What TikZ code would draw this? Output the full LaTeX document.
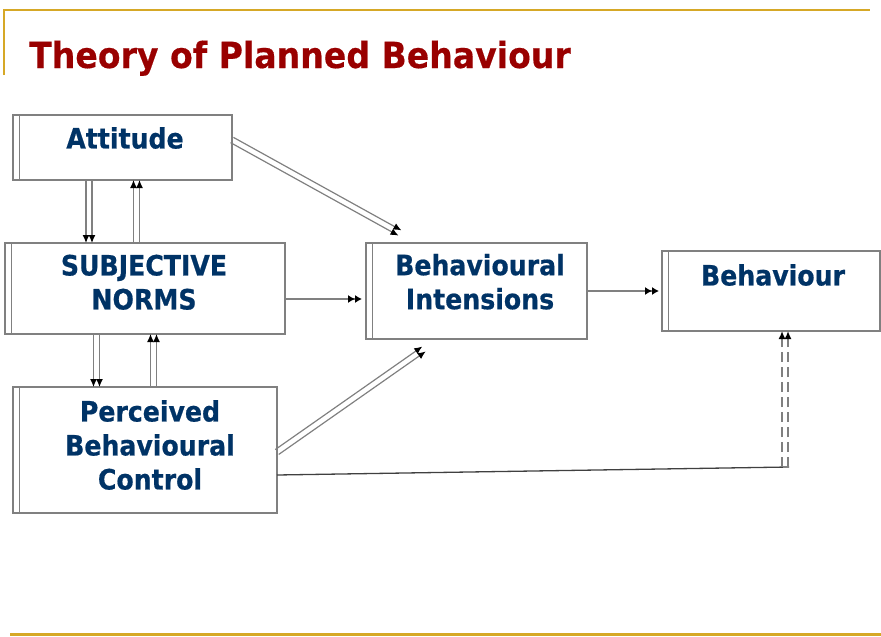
\documentclass[tikz,border=0pt]{standalone}
\usepackage{fontspec}
\usetikzlibrary{arrows.meta,calc,positioning}

\newfontfamily\titlefont[FakeStretch=0.92,FakeBold=0.4]{DejaVu Sans Bold}
\newfontfamily\boxfont[FakeStretch=0.9,FakeBold=0.6]{DejaVu Sans Bold}

\definecolor{gold}{RGB}{214,168,38}
\definecolor{maroon}{RGB}{153,0,0}
\definecolor{navy}{RGB}{0,51,102}
\definecolor{edge}{RGB}{128,128,128}

% two parallel arrows from #2 to #3
\newcommand\twinarrow[3][]{%
  \draw[twin,#1] ($(#2)!3pt!90:(#3)$) -- ($(#3)!3pt!-90:(#2)$);
  \draw[twin,#1] ($(#2)!3pt!-90:(#3)$) -- ($(#3)!3pt!90:(#2)$);}

\begin{document}
\begin{tikzpicture}[x=1pt,y=-1pt,
    card/.style={draw=edge,line width=1.4pt,fill=white,inner sep=0pt,outer sep=0pt},
    caption/.style={text=navy,font=\boxfont\fontsize{28}{34}\selectfont,
        align=center,anchor=north,inner sep=0pt},
    twin/.style={draw=edge,line width=1.2pt,
        -{Latex[length=8pt,width=7pt,color=black]}},
    single/.style={draw=edge,line width=1.2pt,
        -{Latex[length=7pt,width=8pt,color=black]Latex[length=7pt,width=8pt,color=black]}}]
    \useasboundingbox (0,0) rectangle (881,637);

    \draw[gold,line width=2.5pt] (4,75) -- (4,10) -- (870,10);
    \draw[gold,line width=3pt] (10,634) -- (881,634);
    \node[anchor=base west,text=maroon,inner sep=0pt,
        font=\titlefont\fontsize{36}{40}\selectfont] (title) at (29,68)
        {Theory of Planned Behaviour};

    \node[card,minimum width=219,minimum height=65] (att) at (122.5,147.5) {};
    \node[card,minimum width=280,minimum height=91] (sn) at (145,288.5) {};
    \node[card,minimum width=264,minimum height=126] (pbc) at (145,450) {};
    \node[card,minimum width=221,minimum height=96] (bi) at (476.5,291) {};
    \node[card,minimum width=218,minimum height=80] (beh) at (771,291) {};
    \foreach \n in {att,sn,pbc,bi,beh}
        \draw[edge,line width=1.2pt] ([xshift=6.5pt]\n.north west) -- ([xshift=6.5pt]\n.south west);

    \node[caption] (att-t) at (125,127) {Attitude};
    \node[caption] (sn-t) at (144,254.5) {SUBJECTIVE\\NORMS};
    \node[caption] (pbc-t) at (150,400) {Perceived\\Behavioural\\Control};
    \node[caption] (bi-t) at (480,253.7) {Behavioural\\Intensions};
    \node[caption] (beh-t) at (773,264) {Behaviour};

    \coordinate (a1) at ([xshift=-33.5pt]att.south);
    \coordinate (a2) at (a1 |- sn.north);
    \coordinate (u1) at ([xshift=-8.5pt]sn.north);
    \coordinate (u2) at (u1 |- att.south);
    \coordinate (d1) at ([xshift=-48.5pt]sn.south);
    \coordinate (d2) at (d1 |- pbc.north);
    \coordinate (p1) at ([xshift=8.5pt]pbc.north);
    \coordinate (p2) at (p1 |- sn.south);
    \coordinate (ab1) at ([yshift=7.5pt]att.east);
    \coordinate (ab2) at ([xshift=-76.5pt,yshift=10pt]bi.north);
    \coordinate (pb1) at ([yshift=-2pt]pbc.east);
    \coordinate (pb2) at ([xshift=-52.5pt,yshift=-10pt]bi.south);
    \coordinate (knee) at (785,467);
    \coordinate (top) at (knee |- beh.south);

    \twinarrow{a1}{a2}
    \twinarrow{u1}{u2}
    \twinarrow{d1}{d2}
    \twinarrow{p1}{p2}
    \twinarrow{ab1}{ab2}
    \twinarrow{pb1}{pb2}

    \draw[single,shorten >=4pt] ([yshift=-10.5pt]sn.east) -- ([yshift=-10.5pt]sn.east -| bi.west);
    \draw[single,shorten >=3pt] (bi.east) -- (beh.west);

    \draw[black!75,line width=1.3pt] ([yshift=-25pt]pbc.east) -- ([xshift=4pt]knee);
    \twinarrow[line width=2pt,dash pattern=on 10pt off 5pt]{knee}{top}
\end{tikzpicture}
\end{document}
